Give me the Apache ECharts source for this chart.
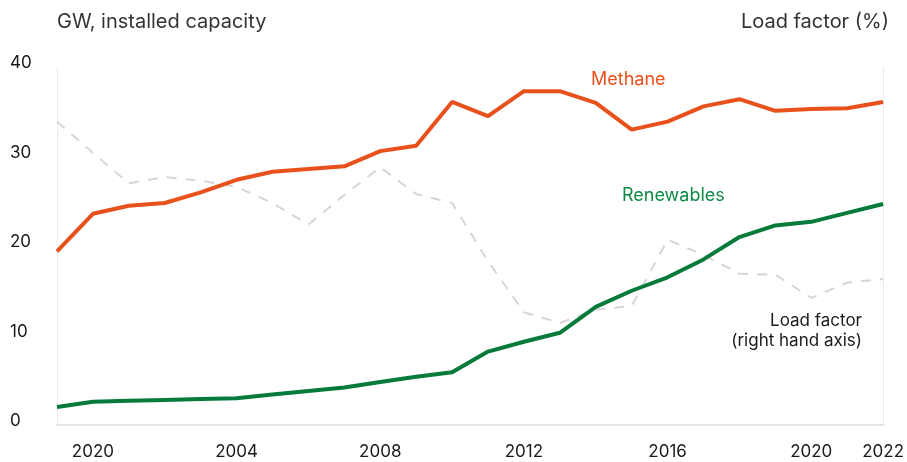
<!DOCTYPE html>
<html>
<head>
<meta charset="utf-8">
<script src="https://cdn.jsdelivr.net/npm/echarts@6/dist/echarts.min.js"></script>
<style>
html,body{margin:0;padding:0;background:#fff;}
#chart{width:907px;height:462px;}
</style>
</head>
<body>
<div id="chart"></div>
<script>
// Categories (years)
const years = ['1999','2000','2001','2002','2003','2004','2005','2006','2007','2008','2009','2010',
               '2011','2012','2013','2014','2015','2016','2017','2018','2019','2020','2021','2022'];
// Tick labels shown on the x axis (as printed in the reference)
const tickYears  = ['2000','2004','2008','2012','2016','2020','2022'];
const tickLabels = ['2020','2004','2008','2012','2016','2020','2022'];
// Installed capacity, GW (left axis)
const methane    = [19.4,23.6,24.5,24.8,26.0,27.4,28.3,28.6,28.9,30.6,31.2,36.1,
                    34.5,37.3,37.3,36.0,33.0,33.9,35.6,36.4,35.1,35.3,35.4,36.1];
const renewables = [2.0,2.6,2.7,2.8,2.9,3.0,3.4,3.8,4.2,4.8,5.4,5.9,
                    8.2,9.3,10.3,13.2,15.0,16.5,18.5,21.0,22.3,22.7,23.7,24.7];
// Load factor, % (right axis, hidden)
const loadFactor = [67.8,60.8,54.0,55.4,54.6,53.2,49.6,44.8,51.4,57.6,51.6,49.6,
                    36.6,25.2,22.8,25.8,26.6,41.4,38.0,33.8,33.6,28.4,31.8,32.6];
const leftTicks = [0,10,20,30,40];

const FONT = 'Inter, "Noto Sans", sans-serif';
const chart = echarts.init(document.getElementById('chart'));
chart.setOption({
  animation:false,
  grid:{left:57,right:22,top:67,bottom:37},
  xAxis:{
    type:'category',
    data:years,
    boundaryGap:false,
    axisLine:{show:true,lineStyle:{color:'#dcdcdc',width:1.5}},
    axisTick:{show:false},
    axisLabel:{
      interval:function(i,v){return tickYears.indexOf(v)>=0;},
      formatter:function(v){const k=tickYears.indexOf(v);return k>=0?tickLabels[k]:'';},
      color:'#1a1a1a',fontSize:17,fontFamily:FONT,margin:18
    },
    splitLine:{show:false}
  },
  yAxis:[{
    type:'value',min:0,max:40,interval:10,
    axisLine:{show:true,lineStyle:{color:'#ececec',width:1}},
    axisTick:{show:false},
    splitLine:{show:false},
    axisLabel:{
      formatter:function(v){return leftTicks.indexOf(v)>=0?String(v):'';},
      color:'#1a1a1a',fontSize:17,fontFamily:FONT,align:'left',margin:47,
      verticalAlign:'bottom',lineHeight:8
    }
  },{
    type:'value',min:0,max:80,position:'right',
    axisLine:{show:true,lineStyle:{color:'#ececec',width:1}},
    axisTick:{show:false},
    splitLine:{show:false},
    axisLabel:{show:false}
  }],
  series:[
    {name:'Load factor',type:'line',yAxisIndex:1,data:loadFactor,symbol:'none',
     lineStyle:{color:'#d6d6d6',width:2,type:[10,9]},z:1},
    {name:'Methane',type:'line',data:methane,symbol:'none',
     lineStyle:{color:'#E8511C',width:4},z:3},
    {name:'Renewables',type:'line',data:renewables,symbol:'none',
     lineStyle:{color:'#057A3A',width:4},z:3}
  ],
  graphic:[
    {type:'text',left:57,top:12,style:{text:'GW, installed capacity',fill:'#333',font:'20px '+FONT}},
    {type:'text',right:18,top:12,style:{text:'Load factor (%)',fill:'#333',font:'20px '+FONT}},
    {type:'text',left:591,top:71,style:{text:'Methane',fill:'#E8511C',font:'18px '+FONT}},
    {type:'text',left:622,top:187,style:{text:'Renewables',fill:'#118A45',font:'18px '+FONT}},
    {type:'text',right:45,top:312,style:{text:'Load factor',fill:'#1a1a1a',font:'17px '+FONT}},
    {type:'text',right:45,top:332,style:{text:'(right hand axis)',fill:'#1a1a1a',font:'17px '+FONT}}
  ]
});
</script>
</body>
</html>
